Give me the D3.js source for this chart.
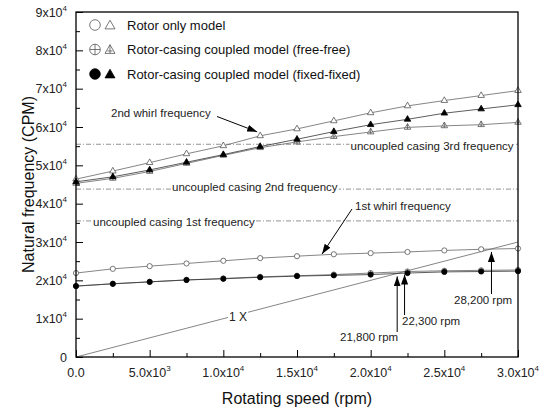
<!DOCTYPE html>
<html>
<head>
<meta charset="utf-8">
<script src="https://cdnjs.cloudflare.com/ajax/libs/d3/7.8.5/d3.min.js"></script>
<style>
  body { margin: 0; background: #fff; }
  svg { font-family: Arial, "Liberation Sans", sans-serif; }
</style>
</head>
<body>
<script>
// ************************************
// *********** Chart data *************
// ************************************

var speed = [0, 2500, 5000, 7500, 10000, 12500, 15000, 17500, 20000, 22500, 25000, 27500, 30000];

// 1st whirl
var rotorFirst = [21900, 23000, 23700, 24400, 25100, 25800, 26300, 26800, 27100, 27400, 27800, 28100, 28300];
var freeFirst  = [18500, 19100, 19600, 20100, 20500, 20900, 21200, 21500, 21900, 22300, 22500, 22600, 22700];
var fixedFirst = [18500, 19100, 19600, 20100, 20400, 20800, 21100, 21300, 21500, 21900, 22200, 22300, 22400];

// 2nd whirl
var rotorSecond = [46400, 48500, 50700, 53000, 55100, 57700, 59500, 61600, 63700, 65500, 66900, 68200, 69500];
var freeSecond  = [45300, 46600, 48400, 50500, 52600, 54600, 56100, 57500, 58700, 59900, 60300, 60600, 61200];
var fixedSecond = [45700, 47000, 48800, 50800, 52800, 54900, 56800, 58800, 60600, 62000, 63600, 64700, 65800];

// uncoupled casing frequencies
var casingFreq = [35500, 43800, 55500];
var casingLabels = ["uncoupled casing 1st frequency", "uncoupled casing  2nd frequency", "uncoupled casing 3rd frequency"];

// 1X crossings
var crossings = [21800, 22300, 28200];
var crossingLabels = ["21,800 rpm", "22,300 rpm", "28,200 rpm"];

// ticks
var xMajor = [0, 5000, 10000, 15000, 20000, 25000, 30000];
var xMinor = [2500, 7500, 12500, 17500, 22500, 27500];
var xTickLabels = [["0.0", ""], ["5.0x10", "3"], ["1.0x10", "4"], ["1.5x10", "4"], ["2.0x10", "4"], ["2.5x10", "4"], ["3.0x10", "4"]];
var yMajor = [0, 10000, 20000, 30000, 40000, 50000, 60000, 70000, 80000, 90000];
var yMinor = [5000, 15000, 25000, 35000, 45000, 55000, 65000, 75000, 85000];
var yTickLabels = [["0", ""], ["1x10", "4"], ["2x10", "4"], ["3x10", "4"], ["4x10", "4"], ["5x10", "4"], ["6x10", "4"], ["7x10", "4"], ["8x10", "4"], ["9x10", "4"]];

var legendLabels = ["Rotor only model", "Rotor-casing coupled model (free-free)", "Rotor-casing coupled model (fixed-fixed)"];

// ************************************
// *********** Setup ******************
// ************************************

var W = 542, H = 413;
var plotL = 76, plotR = 518, plotT = 12, plotB = 357;

var svg = d3.select('body').append('svg')
  .attr('width', W)
  .attr('height', H);

var x = d3.scaleLinear().domain([0, 30000]).range([plotL, plotR]);
var y = d3.scaleLinear().domain([0, 90000]).range([plotB, plotT]);

var lineCol = '#666';

var defs = svg.append('defs');
defs.append('marker')
  .attr('id', 'arrow')
  .attr('markerUnits', 'userSpaceOnUse')
  .attr('markerWidth', 10).attr('markerHeight', 7)
  .attr('refX', 10).attr('refY', 3.5)
  .attr('orient', 'auto')
  .append('path').attr('d', 'M0,0 L10,3.5 L0,7 z').attr('fill', '#000');

// symbol helpers
function triPath(s) {
  var h = s * Math.sqrt(3) / 2;
  return 'M0,' + (-h * 2 / 3) + 'L' + (s / 2) + ',' + (h / 3) + 'L' + (-s / 2) + ',' + (h / 3) + 'Z';
}
function drawSymbol(g, kind, shape, s) {
  // kind: open, cross, filled ; shape: circle, tri
  var fill = kind === 'filled' ? '#000' : '#fff';
  var stroke = kind === 'filled' ? '#000' : '#555';
  if (shape === 'circle') {
    g.append('circle').attr('r', s).attr('fill', fill).attr('stroke', stroke).attr('stroke-width', 0.8);
    if (kind === 'cross') {
      g.append('path').attr('d', 'M' + (-s) + ',0H' + s + 'M0,' + (-s) + 'V' + s)
        .attr('stroke', stroke).attr('stroke-width', 0.8);
    }
  } else {
    g.append('path').attr('d', triPath(s)).attr('fill', fill).attr('stroke', stroke).attr('stroke-width', 0.8);
    if (kind === 'cross') {
      var h = s * Math.sqrt(3) / 2;
      g.append('path').attr('d', 'M0,' + (-h * 2 / 3) + 'V' + (h / 3) + 'M' + (-s / 4) + ',' + (h / 20) + 'H' + (s / 4))
        .attr('stroke', stroke).attr('stroke-width', 0.8);
    }
  }
}

// text with white box behind (breaks lines underneath)
function boxedText(g, tx, ty, str, size, anchor) {
  var t = g.append('text')
    .attr('x', tx).attr('y', ty)
    .attr('font-size', size)
    .attr('fill', '#222')
    .attr('text-anchor', anchor || 'start')
    .text(str);
  var b = t.node().getBBox();
  g.insert('rect', function(){ return t.node(); })
    .attr('x', b.x - 1).attr('y', b.y + 1)
    .attr('width', b.width + 2).attr('height', b.height - 2)
    .attr('fill', '#fff');
  return t;
}

// ************************************
// *********** Reference lines ********
// ************************************

var refs = svg.append('g');
refs.selectAll('line.casing')
  .data(casingFreq)
  .enter().append('line')
  .attr('class', 'casing')
  .attr('x1', x(0)).attr('x2', x(30000))
  .attr('y1', function(d){ return y(d); })
  .attr('y2', function(d){ return y(d); })
  .attr('stroke', '#777')
  .attr('stroke-width', 0.8)
  .attr('stroke-dasharray', '5,2,1,2');

// 1X line
refs.append('line')
  .attr('x1', x(0)).attr('y1', y(0))
  .attr('x2', x(30000)).attr('y2', y(30000))
  .attr('stroke', lineCol).attr('stroke-width', 0.8);

// ************************************
// *********** Curves *****************
// ************************************

var series = [
  { vals: rotorFirst,  kind: 'open',   shape: 'circle' },
  { vals: freeFirst,   kind: 'cross',  shape: 'circle' },
  { vals: fixedFirst,  kind: 'filled', shape: 'circle' },
  { vals: rotorSecond, kind: 'open',   shape: 'tri' },
  { vals: freeSecond,  kind: 'cross',  shape: 'tri' },
  { vals: fixedSecond, kind: 'filled', shape: 'tri' }
];

var line = d3.line()
  .x(function(d, i){ return x(speed[i]); })
  .y(function(d){ return y(d); });

var curves = svg.append('g');
series.forEach(function(s){
  curves.append('path')
    .attr('d', line(s.vals))
    .attr('fill', 'none')
    .attr('stroke', s.kind === 'filled' ? '#333' : lineCol)
    .attr('stroke-width', 0.8);
});
series.forEach(function(s){
  s.vals.forEach(function(v, i){
    var g = curves.append('g').attr('transform', 'translate(' + x(speed[i]) + ',' + y(v) + ')');
    drawSymbol(g, s.kind, s.shape, s.shape === 'circle' ? 2.6 : 6.5);
  });
});

// ************************************
// *********** Annotations ************
// ************************************

var ann = svg.append('g');
boxedText(ann, 93, 225.5, casingLabels[0], 11.5);
boxedText(ann, 172, 191, casingLabels[1], 11.5);
boxedText(ann, 350.5, 150, casingLabels[2], 11.5);
boxedText(ann, 238, 321, '1 X', 12, 'middle');

// whirl labels + arrows
ann.append('text').attr('x', 111).attr('y', 117).attr('font-size', 11.5).attr('fill', '#222').text('2nd whirl frequency');
ann.append('line')
  .attr('x1', 217).attr('y1', 116.5)
  .attr('x2', x(12500) - 3).attr('y2', y(rotorSecond[5]) - 4)
  .attr('stroke', '#000').attr('stroke-width', 1).attr('marker-end', 'url(#arrow)');

ann.append('text').attr('x', 355).attr('y', 210).attr('font-size', 11.5).attr('fill', '#222').text('1st whirl frequency');
ann.append('line')
  .attr('x1', 352).attr('y1', 209)
  .attr('x2', x(16700)).attr('y2', y(26600) - 1)
  .attr('stroke', '#000').attr('stroke-width', 1).attr('marker-end', 'url(#arrow)');

// crossing arrows
var crossText = [[340, 341], [402, 325], [454, 304]];
var crossStart = [332, 315, 294];
crossings.forEach(function(c, i){
  ann.append('text').attr('x', crossText[i][0]).attr('y', crossText[i][1])
    .attr('font-size', 11.5).attr('fill', '#222').text(crossingLabels[i]);
  ann.append('line')
    .attr('x1', x(c)).attr('y1', crossStart[i])
    .attr('x2', x(c)).attr('y2', y(c) + 3)
    .attr('stroke', '#000').attr('stroke-width', 1).attr('marker-end', 'url(#arrow)');
});

// ************************************
// *********** Axes / frame ***********
// ************************************

var axes = svg.append('g');

axes.append('g').attr('transform', 'translate(0,' + plotB + ')')
  .call(d3.axisBottom(x).tickValues(xMajor).tickSize(-7).tickFormat(''));
axes.append('g').attr('transform', 'translate(0,' + plotB + ')')
  .call(d3.axisBottom(x).tickValues(xMinor).tickSize(-4).tickFormat(''));
axes.append('g').attr('transform', 'translate(' + plotL + ',0)')
  .call(d3.axisLeft(y).tickValues(yMajor).tickSize(-7).tickFormat(''));
axes.append('g').attr('transform', 'translate(' + plotL + ',0)')
  .call(d3.axisLeft(y).tickValues(yMinor).tickSize(-4).tickFormat(''));
axes.selectAll('.domain').remove();
axes.selectAll('.tick line').attr('stroke', '#000').attr('stroke-width', 1);

axes.append('rect')
  .attr('x', plotL).attr('y', plotT)
  .attr('width', plotR - plotL).attr('height', plotB - plotT)
  .attr('fill', 'none').attr('stroke', '#000').attr('stroke-width', 1.3);

// tick labels
xMajor.forEach(function(v, i){
  var t = axes.append('text')
    .attr('x', x(v)).attr('y', 377)
    .attr('text-anchor', 'middle')
    .attr('font-size', 12.5).attr('fill', '#222');
  t.append('tspan').text(xTickLabels[i][0]);
  if (xTickLabels[i][1]) t.append('tspan').attr('dy', -6).attr('font-size', 8).text(xTickLabels[i][1]);
});
yMajor.forEach(function(v, i){
  var t = axes.append('text')
    .attr('x', 67).attr('y', y(v) + 4.5)
    .attr('text-anchor', 'end')
    .attr('font-size', 12.5).attr('fill', '#222');
  t.append('tspan').text(yTickLabels[i][0]);
  if (yTickLabels[i][1]) t.append('tspan').attr('dy', -6).attr('font-size', 8).text(yTickLabels[i][1]);
});

// axis titles
svg.append('text')
  .attr('x', (plotL + plotR) / 2).attr('y', 404)
  .attr('text-anchor', 'middle').attr('font-size', 16).attr('fill', '#111')
  .text('Rotating speed (rpm)');
svg.append('text')
  .attr('transform', 'translate(34,' + ((plotT + plotB) / 2) + ') rotate(-90)')
  .attr('text-anchor', 'middle').attr('font-size', 16).attr('fill', '#111')
  .text('Natural frequency (CPM)');

// ************************************
// *********** Legend *****************
// ************************************

var legRows = [25, 49.5, 74];
var legKinds = ['open', 'cross', 'filled'];
legKinds.forEach(function(k, i){
  var gc = svg.append('g').attr('transform', 'translate(95,' + legRows[i] + ')');
  drawSymbol(gc, k, 'circle', 5.3);
  var gt = svg.append('g').attr('transform', 'translate(110,' + (legRows[i] + 1) + ')');
  drawSymbol(gt, k, 'tri', 10);
  svg.append('text')
    .attr('x', 127).attr('y', legRows[i] + 4.5)
    .attr('font-size', 13).attr('fill', '#111')
    .text(legendLabels[i]);
});
</script>
</body>
</html>
